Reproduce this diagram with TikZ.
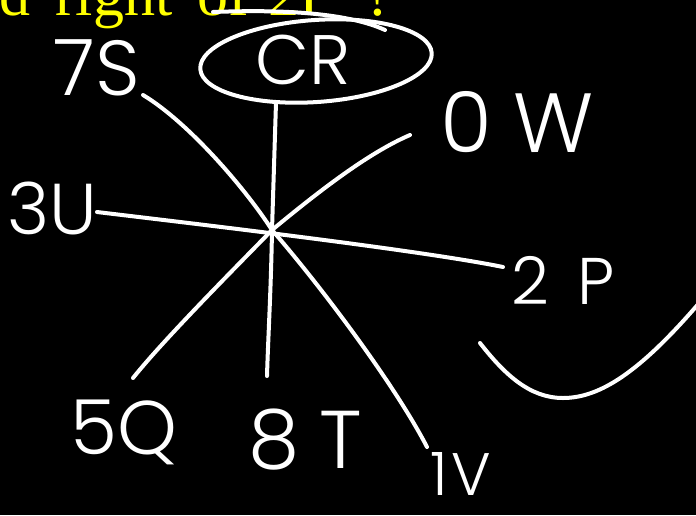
\documentclass[tikz,border=0pt]{standalone}
\usepackage{fontspec}
\usetikzlibrary{shapes.geometric}
\setmainfont{Liberation Serif}
\IfFontExistsTF{Poppins Light}{\newfontfamily\hand{Poppins Light}}{\newfontfamily\hand{Poppins}}
\tikzset{
  stroke/.style={draw=white, line width=4pt, line cap=round, line join=round},
  lbl/.style={text=white, inner sep=0pt, font=\hand\fontsize{#1}{#1}\selectfont},
  lbl/.default=78,
}
\begin{document}
\begin{tikzpicture}[x=1pt,y=-1pt]
\fill[black] (0,0) rectangle (696,515);
\useasboundingbox (0,0) rectangle (696,515);
\clip (0,0) rectangle (696,515);
% question text (cut at the top)
\node[anchor=base west, inner sep=0pt, text={rgb,255:red,255;green,255;blue,0},
      font=\fontsize{62}{62}\selectfont] (q) at (-59.5,15)
  {and\hspace{25pt}right\hspace{25pt}of\hspace{20pt}2P\hspace{31pt}?};
% ellipse round CR
\node[stroke, ellipse, minimum width=232pt, minimum height=82pt, inner sep=0pt, rotate=4] (ring) at (316,61) {};
\draw[stroke] (213,12) .. controls (290,9) and (350,14) .. (385,30);
% labels
\node[lbl=78] (s7) at (97,68) {7S};
\node[lbl=70] (cr) at (303,60) {CR};
\node[lbl=84] (w0) at (517,122) {0\hspace{22pt}W};
\node[lbl=72] (u3) at (52,208) {3U};
\node[lbl=66] (p2) at (563,280) {2\hspace{28pt}P};
\node[lbl=76] (q5) at (124,432) {5Q};
\node[lbl=82] (t8) at (305,440) {8\hspace{20pt}T};
\node[lbl=60] (v1) at (461,474) {1\hspace{4pt}V};
% connector ends
\coordinate (c) at (272,230);
\coordinate (e7) at (143,95);
\coordinate (e0) at (410,135);
\coordinate (e3) at (97,212);
\coordinate (e2) at (503,267);
\coordinate (e5) at (133,378);
\coordinate (e8) at (267,376);
\coordinate (e1) at (427,447);
% connectors
\draw[stroke] (ring.-137) -- (c);
\draw[stroke] (c) .. controls (245,188) and (188,122) .. (e7);
\draw[stroke] (c) .. controls (318,192) and (368,153) .. (e0);
\draw[stroke] (e3) .. controls (180,222) and (420,250) .. (e2);
\draw[stroke] (c) .. controls (240,263) and (165,338) .. (e5);
\draw[stroke] (c) .. controls (271,290) and (268,340) .. (e8);
\draw[stroke] (c) .. controls (320,285) and (395,385) .. (e1);
% curve at the lower right
\draw[stroke] (480,343) .. controls (505,375) and (530,398) .. (563,398)
              .. controls (600,398) and (640,372) .. (700,302);
\end{tikzpicture}
\end{document}
